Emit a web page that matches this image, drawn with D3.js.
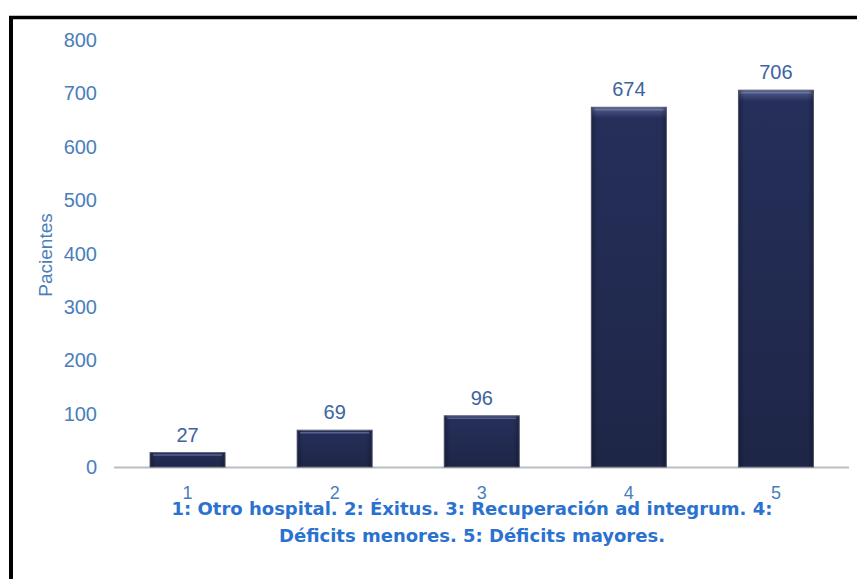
<!DOCTYPE html>
<html>
<head>
<meta charset="utf-8">
<script src="https://cdn.jsdelivr.net/npm/d3@7"></script>
<style>
  html, body { margin: 0; padding: 0; background: #fff; }
  svg { display: block; }
</style>
</head>
<body>
<svg id="chart" width="857" height="579"></svg>
<script>
// Outcome categories and patient counts
const categories = ["1", "2", "3", "4", "5"];
const pacientes = [27, 69, 96, 674, 706];
const yTicks = [0, 100, 200, 300, 400, 500, 600, 700, 800];
const yTitle = "Pacientes";
const captionLines = [
  "1: Otro hospital. 2: Éxitus. 3: Recuperación ad integrum. 4:",
  "Déficits menores. 5: Déficits mayores."
];

const svg = d3.select("#chart");
const W = 857, H = 579;
const FONT = "Liberation Sans, Arial, sans-serif";

// frame
svg.append("rect").attr("x", 0).attr("y", 0).attr("width", W).attr("height", H).attr("fill", "#fff");
svg.append("line").attr("x1", 9).attr("x2", W).attr("y1", 17.5).attr("y2", 17.5)
  .attr("stroke", "#000").attr("stroke-width", 3.5);
svg.append("line").attr("x1", 11).attr("x2", 11).attr("y1", 16).attr("y2", H)
  .attr("stroke", "#000").attr("stroke-width", 4);

const x = d3.scaleBand().domain(categories).range([114, 849.5]).paddingInner(0.49).paddingOuter(0.245);
const y = d3.scaleLinear().domain([0, 800]).range([467, 40]);

// gradients for bevelled bars
const defs = svg.append("defs");
const gv = defs.append("linearGradient").attr("id", "barV").attr("x1", 0).attr("x2", 0).attr("y1", 0).attr("y2", 1);
gv.append("stop").attr("offset", 0).attr("stop-color", "#5f6a95");
gv.append("stop").attr("offset", 0.012).attr("stop-color", "#414b7a");
gv.append("stop").attr("offset", 0.03).attr("stop-color", "#262f5a");
gv.append("stop").attr("offset", 1).attr("stop-color", "#1e2647");
const gs = defs.append("linearGradient").attr("id", "barS").attr("x1", 0).attr("x2", 1).attr("y1", 0).attr("y2", 0);
gs.append("stop").attr("offset", 0).attr("stop-color", "#000").attr("stop-opacity", 0.25);
gs.append("stop").attr("offset", 0.08).attr("stop-color", "#000").attr("stop-opacity", 0);
gs.append("stop").attr("offset", 0.92).attr("stop-color", "#000").attr("stop-opacity", 0);
gs.append("stop").attr("offset", 1).attr("stop-color", "#000").attr("stop-opacity", 0.25);

// y axis labels (no line, no ticks)
const yAxis = d3.axisLeft(y).tickValues(yTicks).tickSize(0).tickPadding(0);
const gy = svg.append("g").attr("transform", "translate(97,0)").call(yAxis);
gy.select(".domain").remove();
gy.selectAll("text").attr("font-family", FONT)
  .attr("font-size", 20).attr("fill", "#4a7ebb").attr("dy", "0.33em");

// baseline
svg.append("line").attr("x1", 114).attr("x2", 849).attr("y1", y(0) + 0.5).attr("y2", y(0) + 0.5)
  .attr("stroke", "#b9bdc4").attr("stroke-width", 2);

// x axis labels
const xAxis = d3.axisBottom(x).tickSize(0).tickPadding(0);
const gx = svg.append("g").attr("transform", `translate(0,${y(0)})`).call(xAxis);
gx.select(".domain").remove();
gx.selectAll("text").attr("font-family", FONT)
  .attr("font-size", 18).attr("fill", "#4a7ebb")
  .attr("y", 32).attr("dy", null);

// bars
const bars = svg.append("g");
bars.selectAll("rect.bar").data(pacientes).join("rect").attr("class", "bar")
  .attr("x", (d, i) => x(categories[i]))
  .attr("y", d => y(d))
  .attr("width", x.bandwidth())
  .attr("height", d => y(0) - y(d))
  .attr("fill", "url(#barV)")
  .attr("stroke", "#5a6079").attr("stroke-width", 1);
bars.selectAll("rect.shade").data(pacientes).join("rect").attr("class", "shade")
  .attr("x", (d, i) => x(categories[i]))
  .attr("y", d => y(d))
  .attr("width", x.bandwidth())
  .attr("height", d => y(0) - y(d))
  .attr("fill", "url(#barS)");
// top bevel highlight
bars.selectAll("line.hl").data(pacientes).join("line").attr("class", "hl")
  .attr("x1", (d, i) => x(categories[i]) + 3)
  .attr("x2", (d, i) => x(categories[i]) + x.bandwidth() - 3)
  .attr("y1", d => y(d) + 2.5).attr("y2", d => y(d) + 2.5)
  .attr("stroke", "#7d86ad").attr("stroke-width", 1.5).attr("stroke-opacity", 0.6);

// value labels
svg.append("g").selectAll("text").data(pacientes).join("text")
  .attr("x", (d, i) => x(categories[i]) + x.bandwidth() / 2)
  .attr("y", d => y(d) - 11)
  .attr("text-anchor", "middle")
  .attr("font-family", FONT)
  .attr("font-size", 20).attr("fill", "#3b64a0")
  .text(d => d);

// y axis title
svg.append("text")
  .attr("transform", "translate(52,255) rotate(-90)")
  .attr("text-anchor", "middle")
  .attr("font-family", FONT)
  .attr("font-size", 19).attr("fill", "#4a7ebb")
  .text(yTitle);

// caption
svg.append("g").selectAll("text").data(captionLines).join("text")
  .attr("x", 472)
  .attr("y", (d, i) => 515 + i * 27)
  .attr("text-anchor", "middle")
  .attr("font-family", "DejaVu Sans, Verdana, sans-serif")
  .attr("font-weight", "bold")
  .attr("font-size", 18).attr("fill", "#2a72d0")
  .text(d => d);
</script>
</body>
</html>
